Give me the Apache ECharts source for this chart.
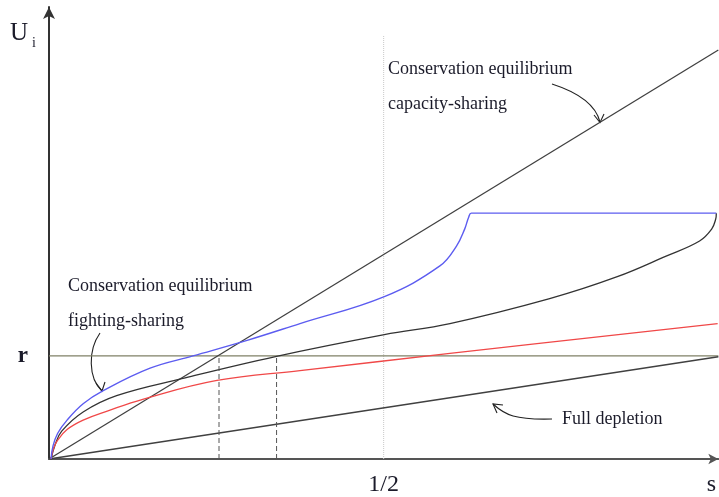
<!DOCTYPE html>
<html>
<head>
<meta charset="utf-8">
<script src="https://cdn.jsdelivr.net/npm/echarts@6/dist/echarts.min.js"></script>
<style>
html,body{margin:0;padding:0;background:#fff;}
#chart{width:719px;height:497px;}
</style>
</head>
<body>
<div id="chart"></div>
<script>
// ---- data (s on x, U_i on y) ----
const xTickLabels = {0: '', 0.5: '1/2', 1: 's'};
const rValue = 0.252;
const yMax = 1.105;
const capacityLine = [[0, 0], [1, 1.0]];
const fullDepletion = [[0, 0], [1, 0.25]];
const blueCurve = [
  [0.003, 0], [0.006, 0.032], [0.013, 0.063], [0.027, 0.095], [0.051, 0.135],
  [0.081, 0.167], [0.151, 0.222], [0.215, 0.252], [0.296, 0.290], [0.375, 0.331],
  [0.501, 0.397], [0.584, 0.472], [0.609, 0.521], [0.621, 0.562], [0.627, 0.591],
  [0.631, 0.601], [0.997, 0.601]
];
const blackCurve = [
  [0.003, 0], [0.009, 0.034], [0.019, 0.068], [0.051, 0.115], [0.101, 0.155],
  [0.2, 0.197], [0.34, 0.251], [0.501, 0.304], [0.599, 0.331],
  [0.748, 0.392], [0.848, 0.445], [0.922, 0.496], [0.972, 0.533], [0.99, 0.562],
  [0.996, 0.586], [0.997, 0.601]
];
const redCurve = [
  [0.003, 0], [0.007, 0.027], [0.013, 0.046], [0.027, 0.072], [0.051, 0.095],
  [0.087, 0.117], [0.14, 0.146], [0.251, 0.192], [0.375, 0.216], [0.599, 0.258],
  [0.999, 0.331]
];
const dashedXs = [0.254, 0.34];
const halfX = 0.5;
const halfLineTop = 1.036;

const serif = '"Liberation Serif", "DejaVu Serif", serif';
const txt = '#1b1b2a';

const chart = echarts.init(document.getElementById('chart'));

function lineSeries(data, color, width, type, smooth) {
  return {
    type: 'line', data: data, showSymbol: false, silent: true,
    smooth: smooth ? 0.4 : false,
    lineStyle: {color: color, width: width, type: type || 'solid'},
    z: 3
  };
}

const series = [
  lineSeries([[halfX, 0], [halfX, halfLineTop]], '#c8c8c8', 1, 'dotted'),
  lineSeries([[0, rValue], [1, rValue]], '#7f8066', 1.3),
  lineSeries(capacityLine, '#404040', 1.3),
  lineSeries(fullDepletion, '#404040', 1.3),
  lineSeries(blackCurve, '#333333', 1.3, 'solid', true),
  lineSeries(redCurve, '#f04848', 1.3, 'solid', true),
  lineSeries(blueCurve, '#5c5cf0', 1.4, 'solid', true)
];
dashedXs.forEach(function (x) {
  series.push(lineSeries([[x, 0], [x, rValue]], '#555555', 1, [5, 3]));
});

const arrowStyle = {stroke: '#222', lineWidth: 1.1, fill: null};
function head(p1, tip, p2) {
  return {type: 'polyline', shape: {points: [p1, tip, p2]}, style: arrowStyle, silent: true};
}

chart.setOption({
  animation: false,
  backgroundColor: '#fff',
  grid: {left: 49, right: 0, top: 7, bottom: 36},
  xAxis: {
    type: 'value', min: 0, max: 1, interval: 0.5,
    axisLine: {show: true, lineStyle: {color: '#555', width: 2}, symbol: ['none', 'arrow'], symbolSize: [8, 10]},
    axisTick: {show: false},
    splitLine: {show: false},
    axisLabel: {
      margin: 14, showMaxLabel: true, showMinLabel: true,
      fontFamily: serif, fontSize: 24, color: txt,
      formatter: function (v) {
        const l = xTickLabels[v] || '';
        return l === 's' ? '{s|s}' : l;
      },
      rich: {s: {fontFamily: serif, fontSize: 24, color: txt, padding: [0, 14, 0, 0]}}
    }
  },
  yAxis: {
    type: 'value', min: 0, max: yMax, interval: rValue,
    axisLine: {show: true, lineStyle: {color: '#333', width: 2}, symbol: ['none', 'arrow'], symbolSize: [9, 12]},
    axisTick: {show: false},
    splitLine: {show: false},
    axisLabel: {
      margin: 21, fontFamily: serif, fontSize: 23, fontWeight: 'bold', color: txt,
      formatter: function (v) { return Math.abs(v - rValue) < 1e-6 ? 'r' : ''; }
    }
  },
  series: series,
  graphic: [
    {type: 'text', left: 10, top: 21, style: {text: 'U', font: '25px ' + serif, fill: txt}},
    {type: 'text', left: 32, top: 36, style: {text: 'i', font: '14px ' + serif, fill: txt}},
    {type: 'text', left: 388, top: 60, style: {text: 'Conservation equilibrium', font: '18px ' + serif, fill: txt}},
    {type: 'text', left: 388, top: 95, style: {text: 'capacity-sharing', font: '18px ' + serif, fill: txt}},
    {type: 'text', left: 68, top: 277, style: {text: 'Conservation equilibrium', font: '18px ' + serif, fill: txt}},
    {type: 'text', left: 68, top: 312, style: {text: 'fighting-sharing', font: '18px ' + serif, fill: txt}},
    {type: 'text', left: 562, top: 410, style: {text: 'Full depletion', font: '18px ' + serif, fill: txt}},
    {type: 'bezierCurve', shape: {x1: 552, y1: 84, cpx1: 580, cpy1: 93, cpx2: 596, cpy2: 106, x2: 600, y2: 122}, style: arrowStyle, silent: true},
    head([594, 115], [600, 122.5], [604, 114]),
    {type: 'bezierCurve', shape: {x1: 100, y1: 333, cpx1: 88, cpy1: 350, cpx2: 88, cpy2: 378, x2: 102, y2: 391}, style: arrowStyle, silent: true},
    head([96, 383], [102, 391], [105, 382]),
    {type: 'bezierCurve', shape: {x1: 552, y1: 419, cpx1: 515, cpy1: 420, cpx2: 505, cpy2: 415, x2: 493, y2: 404}, style: arrowStyle, silent: true},
    head([503, 405], [493, 404], [497, 413])
  ]
});
</script>
</body>
</html>
